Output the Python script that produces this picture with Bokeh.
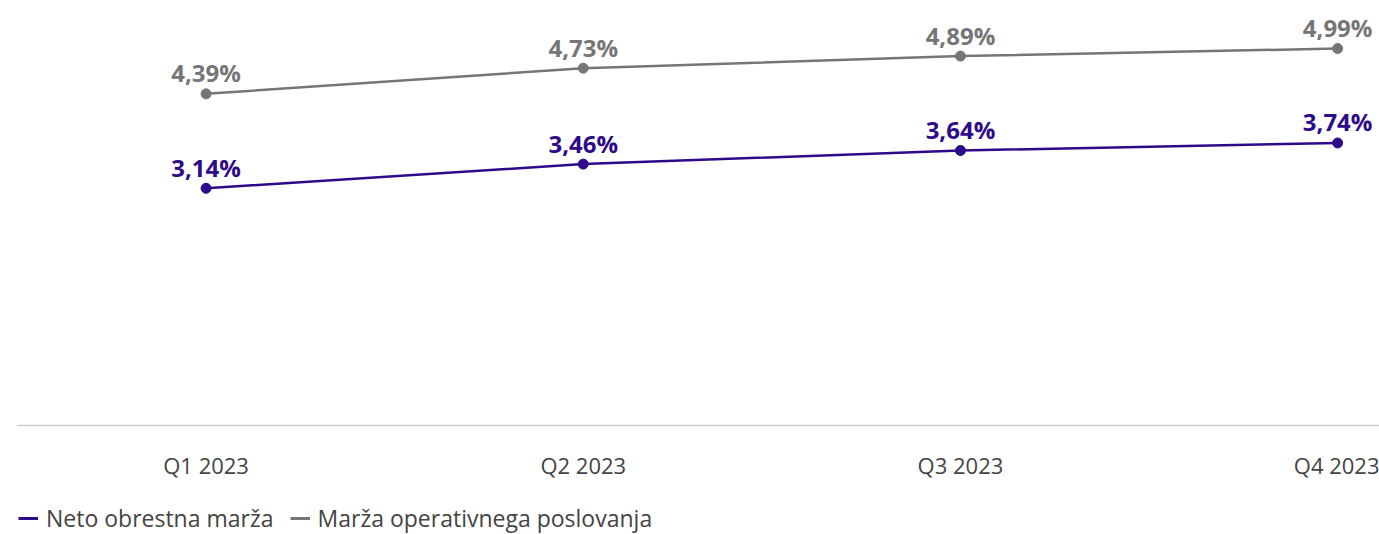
from bokeh.plotting import figure
from bokeh.layouts import column
from bokeh.models import Range1d, FixedTicker, Legend, LegendItem, ColumnDataSource
from bokeh.core.properties import value
from bokeh.embed import file_html
from bokeh.resources import INLINE

categories = ["Q1 2023", "Q2 2023", "Q3 2023", "Q4 2023"]
neto = [3.14, 3.46, 3.64, 3.74]
operativna = [4.39, 4.73, 4.89, 4.99]
series_names = ["Neto obrestna marža", "Marža operativnega poslovanja"]

PURPLE = "#2e0a8a"
GRAY = "#767676"
FONT = "Open Sans"

xs = list(range(len(categories)))

p = figure(width=1379, height=489, output_backend="svg", toolbar_location=None,
           x_range=Range1d(-0.5, 3.111), y_range=Range1d(0, 5.52),
           y_axis_location=None, min_border_left=17, min_border_right=0,
           min_border_top=8, min_border_bottom=64)
p.outline_line_color = None
p.xgrid.visible = False
p.ygrid.visible = False
p.background_fill_color = "white"
p.border_fill_color = "white"

ax = p.xaxis[0]
ax.ticker = FixedTicker(ticks=xs)
ax.major_label_overrides = {i: c for i, c in enumerate(categories)}
ax.axis_line_color = "#cccccc"
ax.axis_line_width = 1.5
ax.major_tick_line_color = None
ax.minor_tick_line_color = None
ax.major_label_text_font = FONT
ax.major_label_text_font_size = "22px"
ax.major_label_text_color = "#444444"
ax.major_label_standoff = 18

def fmt(v):
    return f"{v:.2f}".replace(".", ",") + "%"

for vals, color in [(neto, PURPLE), (operativna, GRAY)]:
    src = ColumnDataSource(dict(x=xs, y=vals, lab=[fmt(v) for v in vals]))
    p.line("x", "y", source=src, line_color=color, line_width=2.5)
    p.scatter("x", "y", source=src, size=10, fill_color=color, line_color=color)
    p.text("x", "y", text="lab", source=src, text_color=color,
           text_font=value(FONT), text_font_style="bold", text_font_size="24px",
           text_align="center", text_baseline="middle", y_offset=-21)

# legend strip below the chart (stub renderers hold no visible data)
lg = figure(width=1379, height=45, output_backend="svg", toolbar_location=None,
            x_range=Range1d(0, 1), y_range=Range1d(0, 1),
            x_axis_location=None, y_axis_location=None,
            min_border_left=0, min_border_right=0, min_border_top=0, min_border_bottom=0)
lg.outline_line_color = None
lg.xgrid.visible = False
lg.ygrid.visible = False
nan = float("nan")
leg_renderers = []
for color in [PURPLE, GRAY]:
    r = lg.line(x=[nan], y=[nan], line_color=color, line_width=3)
    leg_renderers.append(r)

legend = Legend(items=[LegendItem(label=n, renderers=[r]) for n, r in zip(series_names, leg_renderers)],
                location=(1, 0), orientation="horizontal",
                padding=0, margin=0, spacing=16, glyph_width=20, glyph_height=30,
                label_standoff=8, label_text_font=FONT, label_text_font_size="23px",
                label_text_color="#444444", border_line_color=None,
                background_fill_alpha=0, label_height=30)
lg.add_layout(legend)

layout = column(p, lg, spacing=0)
open("out.html", "w").write(file_html(layout, INLINE))
